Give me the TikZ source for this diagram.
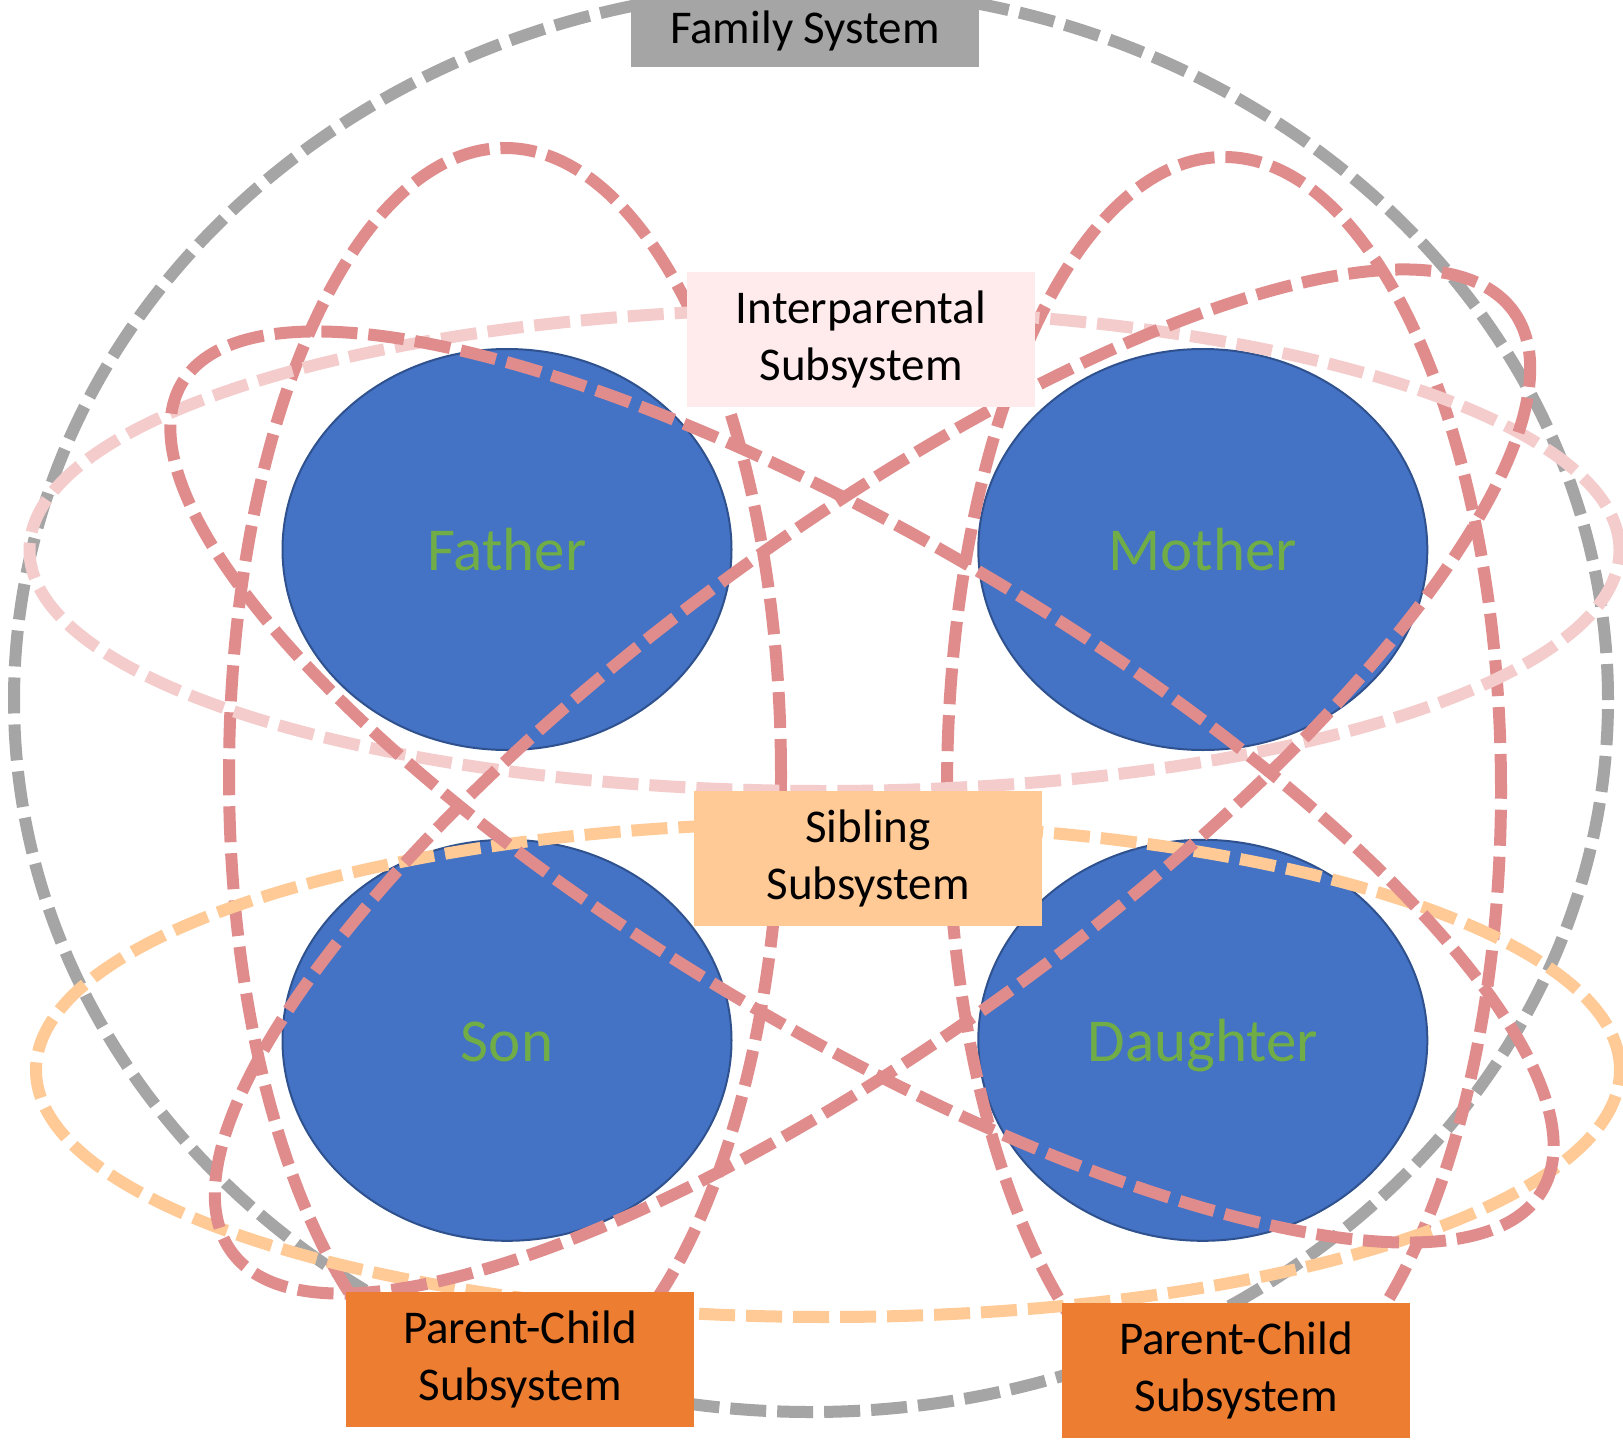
\documentclass[tikz,border=0pt]{standalone}
\usepackage{fontspec}
\setmainfont{Carlito}
\usetikzlibrary{shapes.geometric}

\definecolor{personblue}{HTML}{4472C4}
\definecolor{personedge}{HTML}{2F528F}
\definecolor{namegreen}{HTML}{70AD47}
\definecolor{familygrey}{HTML}{A5A5A5}
\definecolor{dyadred}{HTML}{E08C8C}
\definecolor{couplepink}{HTML}{F4CCCC}
\definecolor{siblingpeach}{HTML}{FFCA96}
\definecolor{interfill}{HTML}{FFEBEB}
\definecolor{pcorange}{HTML}{ED7D31}

\begin{document}
\begin{tikzpicture}[x=0.5pt, y=-0.5pt,
  person/.style={ellipse, draw=personedge, line width=1pt, fill=personblue,
    minimum width=224.5pt, minimum height=200.5pt, inner sep=0pt,
    text=namegreen, font=\fontsize{30.5}{36}\selectfont,
    text height=21.4pt, text depth=0pt},
  boundary/.style={ellipse, draw, line width=6pt,
    dash pattern=on 18pt off 5.5pt, inner sep=0pt},
  tag/.style={rectangle, inner sep=0pt, minimum width=174pt,
    minimum height=67.5pt, align=center,
    font=\fontsize{23.5}{28.5}\selectfont, text=black},
]
\useasboundingbox (0,0) rectangle (1623,1440);
\clip (0,0) rectangle (1623,1440);
\fill[white] (0,0) rectangle (1623,1440);

% family members
\node[person] (father)   at (507,549.5)   {Father};
\node[person] (mother)   at (1202.8,549.5) {Mother};
\node[person] (son)      at (507,1040.3)  {Son};
\node[person] (daughter) at (1202.8,1040.3) {Daughter};

% whole family boundary
\node[boundary, draw=familygrey, minimum width=797pt, minimum height=712pt] (family) at (811,700) {};

% vertical parent-child loops
\node[boundary, draw=dyadred, minimum width=276pt, minimum height=627pt] (fatherson) at (505,775) {};
\node[boundary, draw=dyadred, minimum width=277pt, minimum height=633pt] (motherdaughter) at (1224,790) {};

% interparental and sibling boundaries
\node[boundary, draw=couplepink, minimum width=795pt, minimum height=241pt] (couple) at (824.5,550) {};
\node[boundary, draw=siblingpeach, minimum width=792pt, minimum height=247pt] (siblings) at (828,1070) {};

% diagonal parent-child loops
\node[boundary, draw=dyadred, rotate=-30.7, minimum width=791pt, minimum height=245pt] (fatherdaughter) at (862,787) {};
\node[boundary, draw=dyadred, rotate=36.3, minimum width=795pt, minimum height=250pt] (motherson) at (872.5,781.5) {};

% labels
\node[fill=familygrey, inner sep=0pt, minimum width=174pt, text height=31.5pt,
  text depth=11.85pt, font=\fontsize{23.5}{28.5}\selectfont, anchor=base]
  (famlabel) at (805,43) {Family System};
\node[tag, fill=interfill] (interlabel) at (861,339.5) {Interparental\\Subsystem};
\node[tag, fill=siblingpeach] (siblabel) at (868,858.5) {Sibling\\Subsystem};
\node[tag, fill=pcorange] (pclabelA) at (520,1359.5) {Parent-Child\\Subsystem};
\node[tag, fill=pcorange] (pclabelB) at (1236,1370.5) {Parent-Child\\Subsystem};
\end{tikzpicture}
\end{document}
